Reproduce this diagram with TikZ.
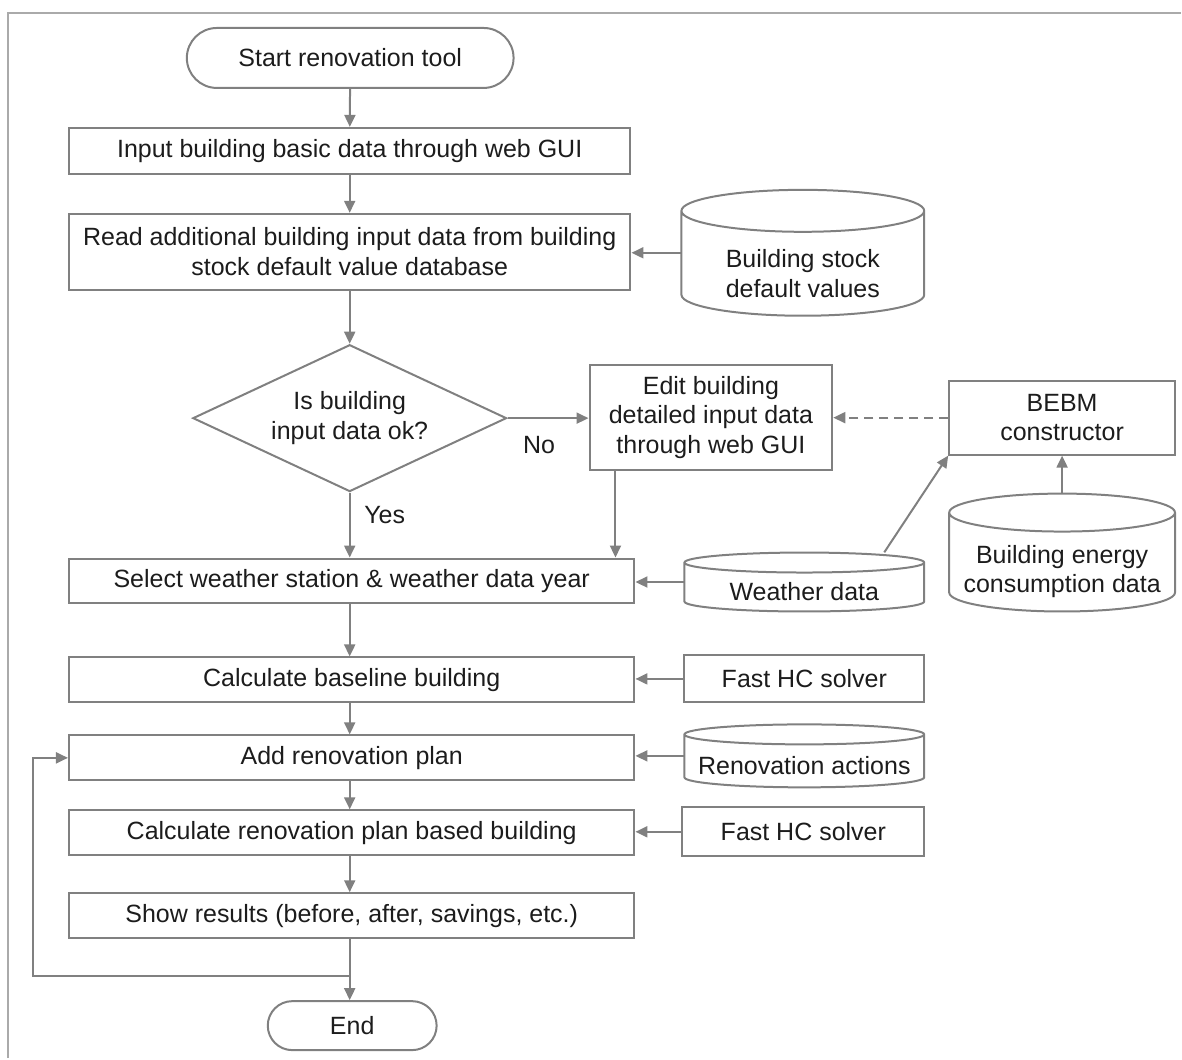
\documentclass[tikz,border=0pt]{standalone}
\usepackage{fontspec}
\setmainfont{Liberation Sans}
\usetikzlibrary{arrows.meta,shapes.geometric,shapes.misc}

\definecolor{linegray}{RGB}{128,128,128}
\definecolor{txtgray}{RGB}{28,28,28}
\definecolor{framegray}{RGB}{170,170,170}

% database drum: name, centre x, top y, bottom y, half width, cap radius, text
\newcommand\dbnode[7]{%
  \draw[linegray, line width=2pt] (#2-#5,#3+#6) -- (#2-#5,#4-#6)
     arc[start angle=180, end angle=0, x radius=#5, y radius=#6] -- (#2+#5,#3+#6)
     arc[start angle=0, end angle=-180, x radius=#5, y radius=#6]
     arc[start angle=180, end angle=0, x radius=#5, y radius=#6];
  \node[inner sep=0pt, minimum width=2*#5, minimum height=#4-#3] (#1) at (#2,{(#3+#4)/2}) {};
  \node[align=center] (#1-txt) at (#2,{(#3+2*#6+#4)/2}) {#7};
}

\begin{document}
\begin{tikzpicture}[x=1pt, y=-1pt,
  font=\fontsize{25}{29.5}\selectfont, text=txtgray,
  box/.style={draw=linegray, line width=2pt, align=center, inner sep=0pt},
  term/.style={rounded rectangle, draw=linegray, line width=2pt, inner sep=0pt},
  decide/.style={diamond, draw=linegray, line width=2pt, align=center, inner sep=0pt, aspect=2.1},
  flow/.style={draw=linegray, line width=2pt, -{Triangle[width=11pt,length=12pt]}}]

  % ==== frame ====
  \draw[framegray, line width=2pt] (8,1059) -- (8,13) -- (1182,13);

  % ==== main column ====
  \node[term] (start) at (350.5,58) [minimum width=327, minimum height=60] {Start renovation tool};
  \node[box] (input) at (350,151) [minimum width=562, minimum height=46] {Input building basic data through web GUI};
  \node[box] (read) at (350,252) [minimum width=562, minimum height=76]
    {Read additional building input data from building\\stock default value database};
  \node[decide] (check) at (350,418.5) [minimum width=314, minimum height=147] {Is building\\input data ok?};
  \node[box] (edit) at (711.5,417.5) [minimum width=243, minimum height=105]
    {Edit building\\detailed input data\\through web GUI};
  \node[box] (bebm) at (1063,418) [minimum width=226, minimum height=74] {BEBM\\constructor};
  \node[box] (select) at (352,581.5) [minimum width=566, minimum height=45] {Select weather station \& weather data year};
  \node[box] (base) at (352,680.5) [minimum width=566, minimum height=45] {Calculate baseline building};
  \node[box] (plan) at (352,758.5) [minimum width=566, minimum height=45] {Add renovation plan};
  \node[box] (calc) at (352,833.5) [minimum width=566, minimum height=45] {Calculate renovation plan based building};
  \node[box] (show) at (352,916.5) [minimum width=566, minimum height=45] {Show results (before, after, savings, etc.)};
  \node[term] (end) at (352.5,1026.5) [minimum width=169, minimum height=49] {End};

  % ==== data sources ====
  \dbnode{stock}{803.5}{190}{316}{121.5}{21}{Building stock\\default values}
  \dbnode{weather}{805}{553}{612}{120}{10}{Weather data}
  \dbnode{energy}{1063}{494}{612}{113}{19}{Building energy\\consumption data}
  \dbnode{actions}{805}{725}{788}{120}{10}{Renovation actions}
  \node[box] (hc1) at (805,679.5) [minimum width=240, minimum height=47] {Fast HC solver};
  \node[box] (hc2) at (804,832.5) [minimum width=242, minimum height=49] {Fast HC solver};

  % ==== connectors ====
  \draw[flow] (start) -- (input);
  \draw[flow] (input) -- (read);
  \draw[flow] (read) -- (check);
  \draw[flow] (stock.west) -- (stock.west -| read.east);
  \draw[flow] (check.east) -- node[pos=0.39, yshift=-27pt] {No} (check.east -| edit.west);
  \draw[flow, dash pattern=on 9pt off 6pt] (bebm.west) -- (bebm.west -| edit.east);
  \draw[flow] ([xshift=27pt]edit.south west) -- ([xshift=27pt]edit.south west |- select.north);
  \draw[flow] (check.south) -- node[pos=0.34, xshift=35pt] {Yes} (check.south |- select.north);
  \draw[flow] (weather.west) -- (weather.west -| select.east);
  \draw[flow] ([xshift=80pt]weather.north) -- (bebm.south west);
  \draw[flow] (energy.north) -- (bebm.south);
  \draw[flow] (check.south |- select.south) -- (check.south |- base.north);
  \draw[flow] (hc1.west) -- (hc1.west -| base.east);
  \draw[flow] (check.south |- base.south) -- (check.south |- plan.north);
  \draw[flow] (actions.west) -- (actions.west -| plan.east);
  \draw[flow] (check.south |- plan.south) -- (check.south |- calc.north);
  \draw[flow] (hc2.west) -- (hc2.west -| calc.east);
  \draw[flow] (check.south |- calc.south) -- (check.south |- show.north);
  \draw[flow] (check.south |- show.south) -- (check.south |- end.north);

  % loop back to the renovation plan
  \coordinate (split) at (350,977);
  \coordinate (turn) at (33,977);
  \draw[flow] (split) -- (turn) |- (plan.west);

  \path[use as bounding box] (0,0) rectangle (1182,1059);
\end{tikzpicture}
\end{document}
